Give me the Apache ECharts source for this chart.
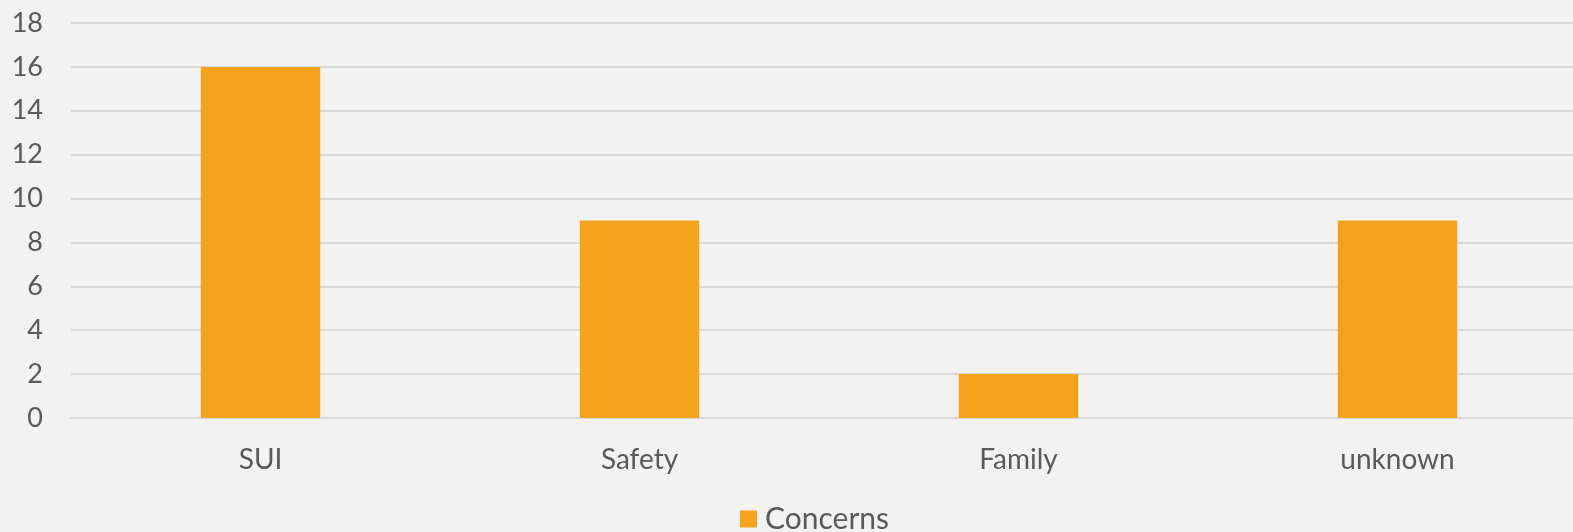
<!DOCTYPE html>
<html>
<head>
<meta charset="utf-8">
<style>
  html, body { margin: 0; padding: 0; background: #f2f2f2; }
  #chart { width: 1573px; height: 532px; }
</style>
<script src="https://cdn.jsdelivr.net/npm/echarts@6/dist/echarts.min.js"></script>
</head>
<body>
<div id="chart"></div>
<script>
// Counts of reported concerns per category
const categories = ['SUI', 'Safety', 'Family', 'unknown'];
const concerns = [16, 9, 2, 9];
const seriesName = 'Concerns';

const textColor = '#595959';
const fontFamily = 'Lato, "Open Sans", sans-serif';

const chart = echarts.init(document.getElementById('chart'), null, { renderer: 'canvas' });
chart.setOption({
  backgroundColor: '#f2f2f2',
  animation: false,
  // the plot area runs a little past the right edge of the canvas
  grid: { left: 71, width: 1516, top: 23, bottom: 114, outerBoundsMode: 'none', containLabel: false },
  legend: {
    top: 499,
    left: 735,
    itemWidth: 17,
    itemHeight: 17,
    itemGap: 10,
    icon: 'rect',
    textStyle: { color: textColor, fontSize: 30, fontFamily: fontFamily, padding: [0, 0, 0, 3] },
    data: [seriesName]
  },
  xAxis: {
    type: 'category',
    data: categories,
    axisLine: { show: true, lineStyle: { color: '#d9d9d9', width: 2 } },
    axisTick: { show: false },
    axisLabel: { color: textColor, fontSize: 28, fontFamily: fontFamily, margin: 28 }
  },
  yAxis: {
    type: 'value',
    min: 0,
    max: 18,
    interval: 2,
    axisLine: { show: false },
    axisTick: { show: false },
    splitLine: { lineStyle: { color: '#d9d9d9', width: 2 } },
    axisLabel: { color: textColor, fontSize: 27, fontFamily: fontFamily, margin: 28 }
  },
  series: [{
    name: seriesName,
    type: 'bar',
    data: concerns,
    barWidth: '31.5%',
    itemStyle: { color: '#f5a31e' }
  }]
});
</script>
</body>
</html>
